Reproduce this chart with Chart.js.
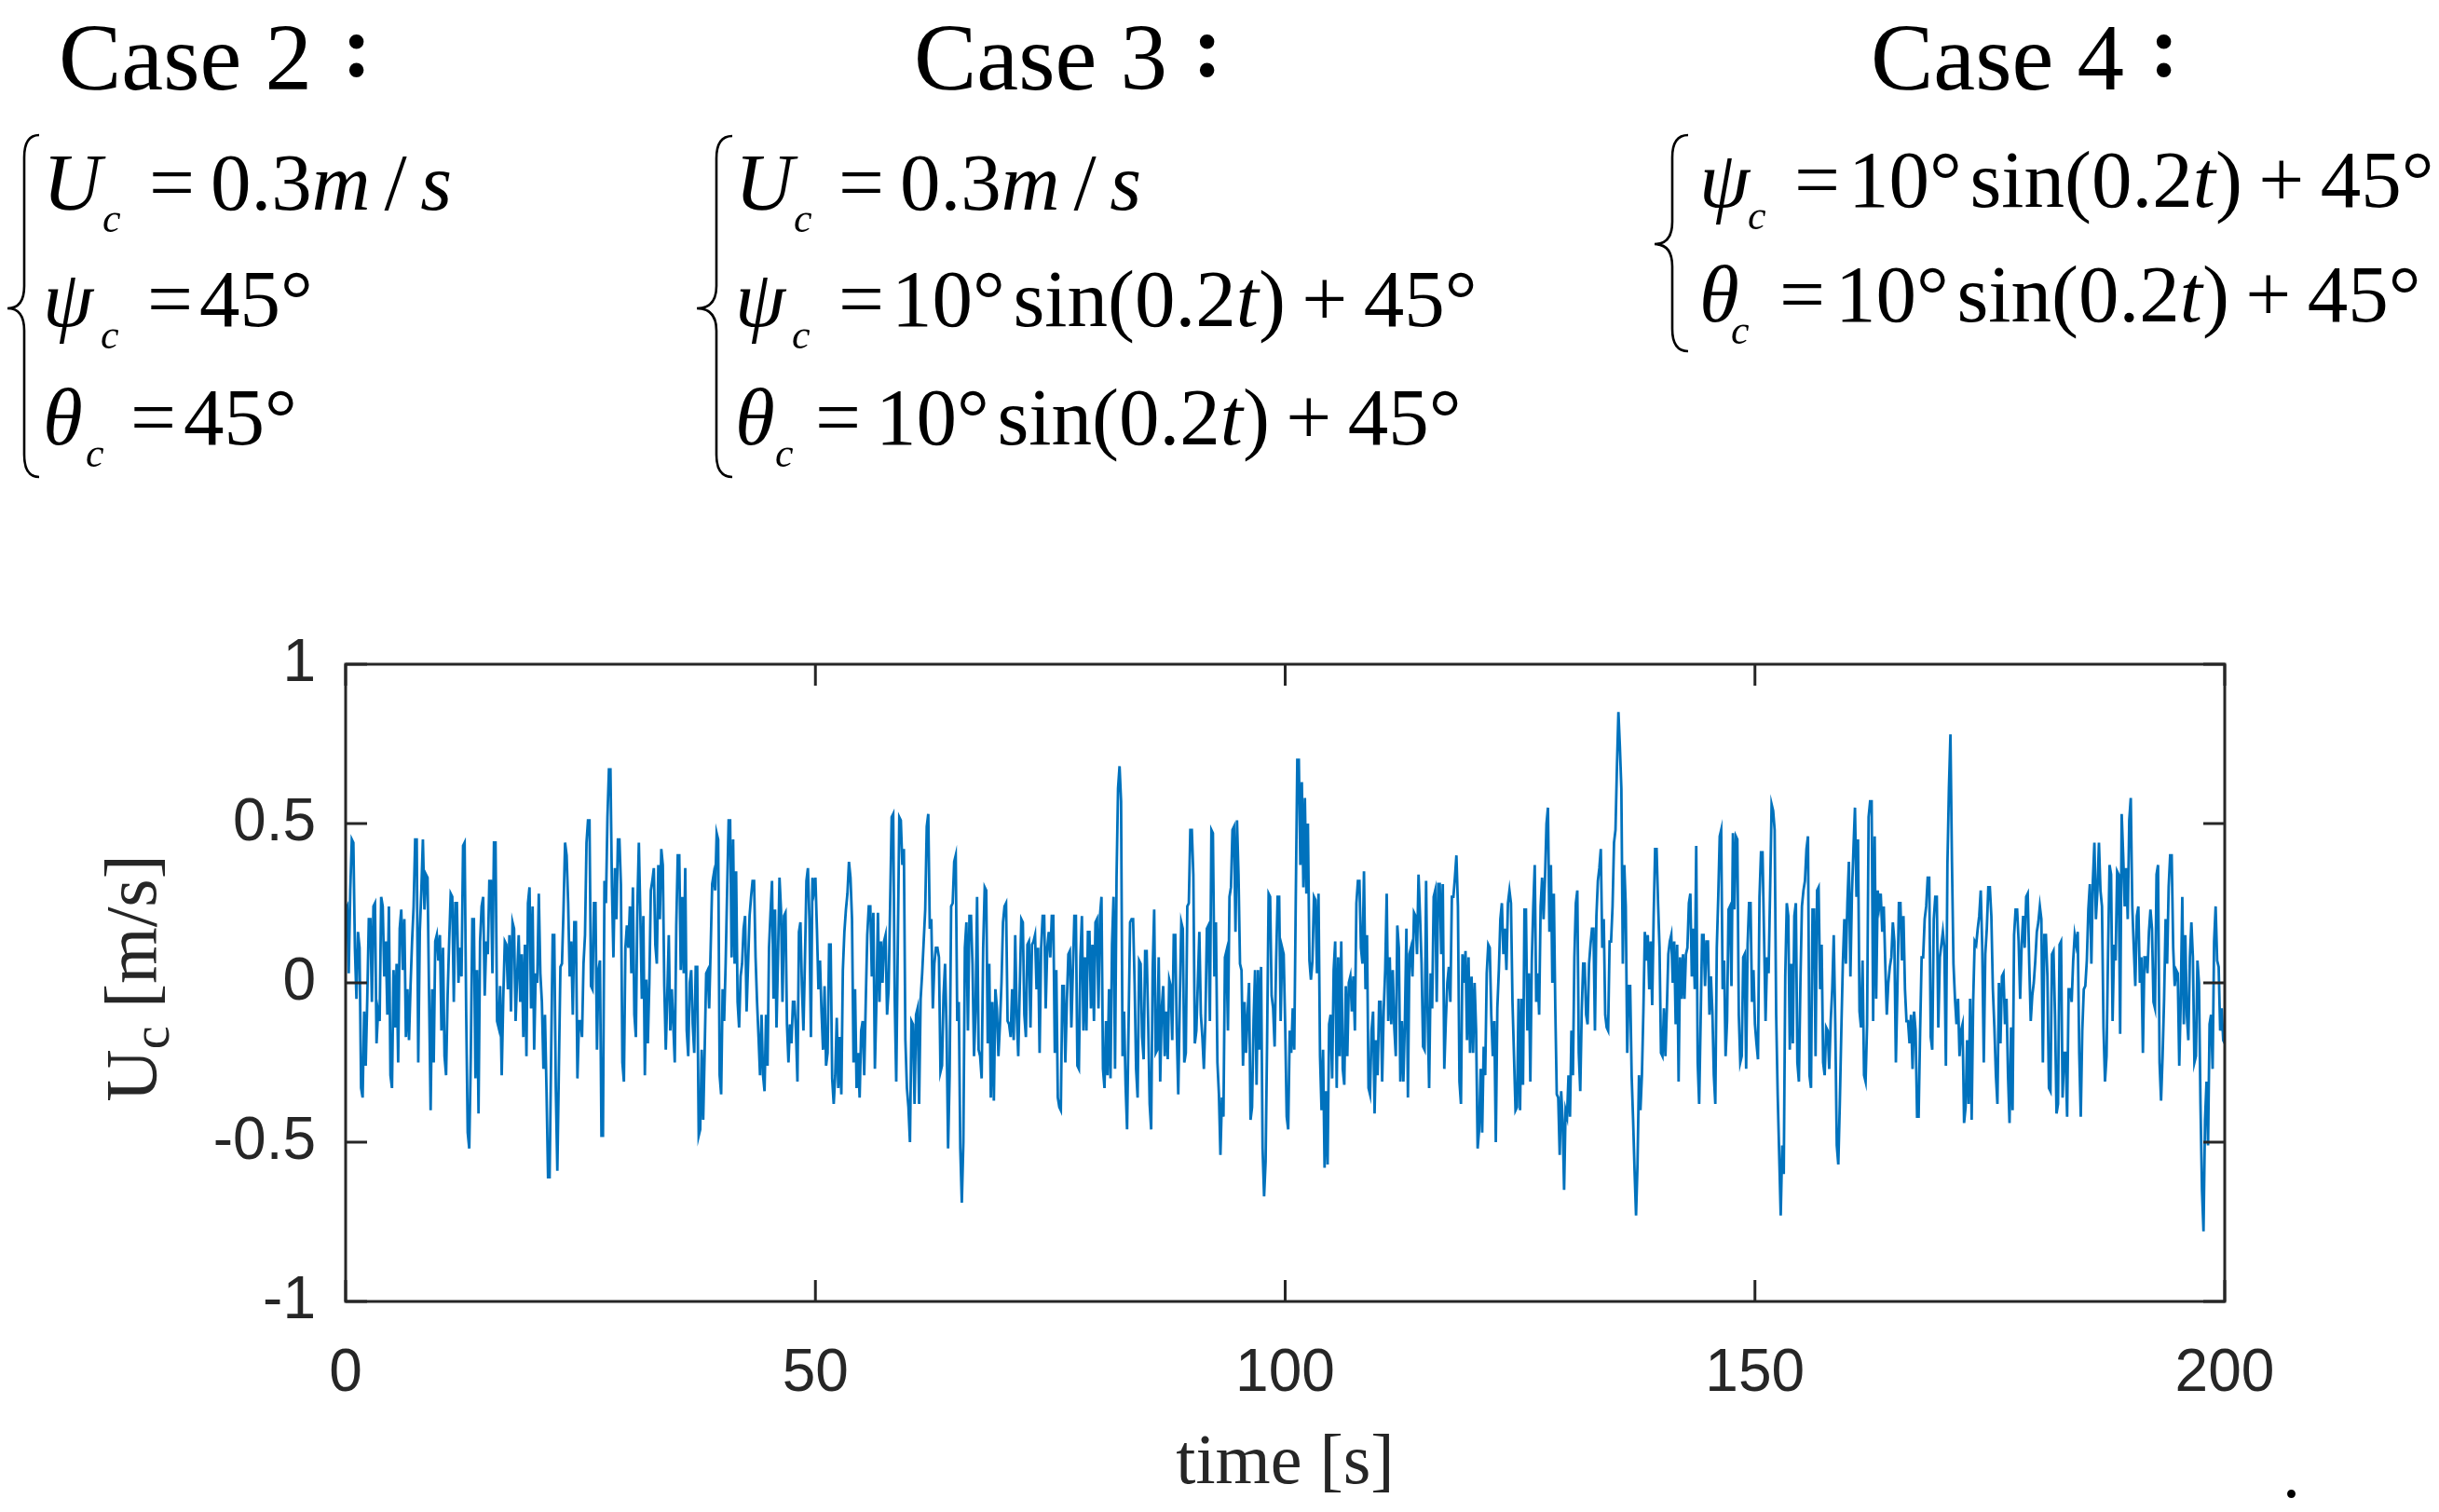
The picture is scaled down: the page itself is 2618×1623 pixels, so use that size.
<!DOCTYPE html>
<html>
<head>
<meta charset="utf-8">
<script src="https://cdn.jsdelivr.net/npm/chart.js@4.4.0/dist/chart.umd.min.js"></script>
<style>
  html, body { margin: 0; padding: 0; background: #fff; }
  #wrap { position: relative; width: 2618px; height: 1623px; overflow: hidden; background: #fff; }
  #chart { position: absolute; left: 0; top: 0; }
  #braces { position: absolute; left: 0; top: 0; }
  .t { position: absolute; line-height: 0; white-space: nowrap; color: #000;
       font-family: "Liberation Serif", "Times New Roman", serif; }
  .t i { font-style: italic; }
  .g { margin: 0 0.2em; }
  .sl { margin: 0 0.17em; }
</style>
</head>
<body>
<div id="wrap">
  <canvas id="chart" width="2618" height="1623"></canvas>
  <svg id="braces" width="2618" height="600"></svg>
</div>
<script>
// tick values
const tickX = [0, 50, 100, 150, 200];
const tickY = [-1, -0.5, 0, 0.5, 1];

// Uc [m/s] in 25 s blocks
const seg0 = [0.23,0.24,0.03,0.29,0.45,0.44,0.11,-0.05,0.16,0.11,-0.33,-0.36,-0.09,-0.26,-0.05,0.20,0.20,-0.06,0.24,0.25,-0.19,-0.09,-0.12,0.27,0.24,0.02,0.13,-0.10,0.24,-0.29,-0.33,0.04,-0.14,0.06,-0.25,0.17,0.23,0.04,0.20,-0.17,-0.02,-0.18,-0.01,0.13,0.24,0.45,0.45,-0.25,0.16,0.29,0.45,0.23,0.34,0.33,-0.04,-0.40,-0.02,-0.25,0.13,0.15,0.07,0.15,-0.15,0.11,-0.23,-0.29,-0.04,0.13,0.28,0.27,-0.06,0.25,0.25,0.00,0.11,0.02,0.43,0.44,-0.09,-0.47,-0.52,-0.23,0.20,0.20,-0.30,0.04,-0.41,0.13,0.24,0.27,-0.04,0.13,0.09,0.32,0.32,0.03,0.44,0.44,-0.12,-0.14,-0.01,-0.29,-0.05,0.13,0.12,-0.02,0.15,-0.09,0.19,0.17,-0.12,0.02,0.15,-0.06,0.09,-0.17,0.12,-0.23,0.25,0.30,-0.08,0.24,-0.21,0.03,0.00,0.28,0.03,-0.06,-0.27,-0.10,-0.34,-0.61,-0.61,-0.22,0.15,0.15,-0.33,-0.59,-0.27,0.05,0.06,0.23,0.44,0.40,0.25,0.02,0.13,-0.10,0.19,0.19,-0.30,-0.12];
const seg1 = [-0.12,-0.17,0.06,0.15,0.44,0.51,0.51,-0.01,-0.02,0.25,0.25,-0.21,0.04,0.07,-0.48,-0.48,0.32,0.25,0.52,0.67,0.67,0.30,0.08,0.36,0.20,0.45,0.45,0.31,-0.25,-0.31,0.11,0.18,0.11,0.24,0.03,0.30,-0.10,-0.17,0.24,0.44,0.21,-0.05,0.21,-0.29,0.01,-0.19,0.00,0.29,0.32,0.36,0.12,0.06,0.37,0.20,0.42,0.37,-0.01,-0.21,-0.04,0.15,-0.15,-0.02,-0.13,-0.25,0.18,0.40,0.40,0.04,0.27,0.03,0.36,-0.15,-0.23,0.00,0.04,-0.13,-0.22,0.05,0.05,-0.48,-0.46,-0.21,-0.43,-0.21,0.03,0.04,-0.08,0.11,0.31,0.34,0.29,0.47,0.45,-0.29,-0.35,-0.02,-0.12,0.06,0.29,0.51,0.51,0.08,0.45,0.06,0.35,-0.06,-0.14,0.02,0.06,0.17,0.21,-0.09,0.06,0.21,0.27,0.32,0.32,0.08,-0.06,-0.17,-0.29,-0.10,-0.29,-0.34,-0.10,-0.26,0.11,0.22,0.32,-0.05,0.23,-0.14,0.08,0.33,0.23,-0.06,0.21,0.22,-0.13,-0.25,-0.13,-0.19,-0.06,-0.06,-0.15,-0.31,0.16,0.19,-0.01,-0.15,0.07,0.32,0.36,0.20,-0.17,0.33,0.29];
const seg2 = [0.33,0.17,-0.02,0.07,-0.09,-0.21,-0.01,-0.26,-0.22,0.12,0.12,-0.30,-0.38,-0.29,-0.11,-0.33,-0.17,-0.35,0.04,0.16,0.23,0.28,0.38,0.33,0.20,-0.25,-0.02,-0.33,-0.22,-0.36,-0.15,-0.12,-0.29,-0.06,0.15,0.24,0.24,0.02,0.22,-0.27,-0.06,0.22,-0.06,0.13,0.00,0.13,0.15,-0.10,-0.02,0.25,0.52,0.53,-0.05,-0.31,0.11,0.52,0.51,0.37,0.42,-0.18,-0.33,-0.39,-0.50,-0.12,-0.13,-0.38,-0.10,-0.08,-0.38,-0.05,0.03,0.13,0.23,0.49,0.53,0.17,0.20,-0.08,0.06,0.11,0.11,0.08,-0.28,-0.26,-0.04,0.06,-0.15,-0.52,-0.29,0.24,0.25,0.38,0.40,-0.12,-0.06,-0.52,-0.69,-0.50,0.11,0.19,-0.15,0.21,0.21,0.06,-0.23,-0.09,0.27,-0.21,-0.23,-0.30,0.11,0.30,0.29,-0.19,0.06,-0.36,-0.06,-0.37,-0.02,-0.08,-0.23,-0.13,0.00,0.19,0.24,0.25,-0.12,-0.13,-0.17,-0.02,-0.18,0.15,-0.10,-0.23,-0.01,0.20,0.19,-0.10,-0.17,0.12,0.13,-0.14,0.12,0.13,0.15,-0.02,0.11,-0.22,0.11,0.21,0.21,-0.08,0.11,0.16];
const seg3 = [0.08,0.21,0.21,-0.22,0.04,-0.36,-0.39,-0.40,-0.01,-0.01,-0.25,-0.06,0.09,0.10,-0.14,0.04,0.21,0.21,-0.26,-0.27,0.08,0.21,-0.15,0.08,-0.15,0.16,0.16,-0.08,0.12,-0.12,0.19,0.20,-0.08,0.21,0.27,-0.27,-0.33,-0.12,-0.29,-0.02,-0.30,0.12,0.27,-0.27,0.33,0.61,0.68,0.57,-0.23,-0.09,-0.32,-0.46,-0.13,0.19,0.20,0.20,0.00,-0.27,-0.36,0.07,0.06,-0.17,-0.24,0.10,0.10,-0.12,-0.38,-0.46,0.04,0.23,-0.22,-0.21,0.08,-0.31,-0.08,-0.01,-0.23,-0.09,-0.24,0.01,-0.01,-0.18,0.15,0.15,-0.15,-0.35,-0.06,0.19,0.17,-0.25,-0.22,0.24,0.25,0.48,0.48,0.34,-0.19,-0.15,0.00,0.16,-0.10,-0.17,-0.27,-0.12,0.17,0.18,-0.12,0.48,0.47,0.02,0.19,-0.25,-0.35,-0.54,-0.36,-0.42,0.08,0.10,-0.15,0.27,0.30,0.48,0.49,0.16,0.51,0.34,0.06,0.04,-0.26,-0.06,-0.22,-0.10,0.00,-0.43,-0.39,-0.12,0.04,-0.32,0.04,-0.21,0.05,-0.52,-0.67,-0.56,-0.18,0.28,0.27,-0.04,-0.08,-0.20,0.07,0.27,0.27,-0.12,0.11,0.09];
const seg4 = [-0.13,-0.42,-0.46,-0.15,-0.22,-0.08,-0.21,0.27,0.70,0.70,0.37,0.63,0.30,0.58,0.28,0.50,0.07,0.01,0.07,0.27,0.26,0.03,0.28,-0.23,-0.40,-0.21,-0.58,-0.34,-0.57,-0.13,-0.10,-0.30,0.04,0.13,-0.33,0.08,-0.23,0.13,-0.27,-0.32,-0.01,-0.23,0.00,0.02,-0.09,0.02,-0.15,0.25,0.32,0.32,0.11,0.06,0.35,-0.02,0.15,-0.33,-0.35,-0.15,-0.09,-0.41,-0.18,-0.29,-0.06,-0.06,-0.31,-0.09,0.04,0.28,-0.12,0.08,-0.13,0.04,-0.14,-0.23,0.18,0.11,-0.31,-0.12,-0.31,-0.12,0.17,-0.36,0.09,0.11,0.02,0.22,0.21,0.09,0.34,0.21,0.06,-0.20,-0.21,0.32,-0.09,-0.33,0.03,-0.08,0.27,0.29,-0.06,0.31,0.31,0.09,0.31,-0.27,-0.12,0.00,0.05,-0.06,0.27,0.27,0.33,0.40,0.24,-0.31,-0.38,0.09,0.00,0.10,-0.18,0.08,-0.22,0.02,-0.22,0.00,-0.15,-0.52,-0.46,-0.27,-0.47,-0.20,-0.29,0.03,0.12,0.11,-0.10,-0.23,-0.12,-0.50,-0.08,0.04,0.20,0.25,0.09,0.17,0.04,0.25,0.29,0.25,-0.06,-0.23,-0.40,-0.39,-0.05];
const seg5 = [-0.40,-0.05,-0.32,0.23,0.23,-0.15,0.03,-0.31,0.07,0.24,0.37,-0.06,0.03,-0.10,0.24,0.33,0.20,0.33,0.50,0.55,0.16,0.37,0.00,0.28,-0.08,-0.35,-0.36,-0.54,-0.34,-0.43,-0.65,-0.40,-0.42,-0.29,-0.42,-0.15,-0.29,0.08,0.25,0.29,-0.22,-0.34,-0.09,0.06,0.06,-0.10,-0.13,0.06,0.12,0.17,0.17,-0.15,0.21,0.32,0.36,0.42,0.11,0.20,-0.10,-0.14,-0.15,0.13,0.13,0.24,0.44,0.48,0.68,0.85,0.74,0.61,0.06,0.37,0.24,-0.22,-0.01,-0.01,-0.29,-0.43,-0.59,-0.73,-0.57,-0.29,-0.40,-0.29,-0.09,0.16,0.07,0.15,-0.02,0.13,-0.07,0.21,0.42,0.42,0.25,0.11,-0.22,-0.23,-0.08,-0.23,-0.08,0.09,0.13,0.15,0.00,0.13,-0.13,0.12,-0.31,0.08,-0.05,0.09,-0.05,0.09,0.11,0.25,0.28,0.02,0.17,-0.02,0.43,-0.25,-0.38,-0.12,0.15,0.15,-0.01,0.13,0.13,-0.10,0.02,-0.09,-0.29,-0.38,0.11,0.27,0.46,0.48,-0.02,0.07,-0.23,-0.12,0.23,0.24,-0.01,0.47,0.23,0.46,0.45,-0.10,-0.25,-0.23,0.08,0.09,-0.27,0.12,0.25,0.25,-0.06,0.04];
const seg6 = [-0.13,-0.19,-0.24,0.27,0.41,0.41,0.15,-0.12,0.08,0.03,0.29,0.56,0.54,0.48,-0.10,-0.35,-0.54,-0.73,-0.51,-0.60,0.02,0.25,0.21,-0.21,0.06,-0.19,0.21,0.25,-0.25,-0.31,0.00,0.24,0.29,0.32,0.42,0.46,-0.29,-0.33,0.23,0.23,-0.23,0.29,0.30,-0.02,0.12,-0.25,-0.29,-0.14,-0.15,-0.27,-0.12,-0.02,0.15,-0.13,-0.51,-0.57,-0.38,-0.15,0.06,0.20,0.06,0.25,0.38,0.02,0.28,0.42,0.55,0.27,0.45,-0.09,-0.14,0.07,-0.29,-0.31,-0.13,0.52,0.57,0.57,-0.12,0.46,-0.05,0.29,0.24,0.28,0.16,0.24,0.06,-0.10,0.00,0.05,0.08,0.19,0.13,-0.25,-0.02,0.25,0.25,0.07,0.21,-0.02,-0.12,-0.12,-0.19,-0.10,-0.27,-0.09,-0.15,-0.42,-0.42,-0.15,0.08,0.08,0.20,0.24,0.33,0.33,-0.17,-0.21,0.20,0.27,0.27,-0.14,0.08,0.12,0.16,0.11,-0.26,0.37,0.61,0.78,0.38,0.06,-0.05,-0.13,-0.05,-0.23,-0.15,-0.13,-0.44,-0.39,-0.18,-0.38,-0.05,-0.43,-0.06,0.13,0.12,0.17,0.21,0.29,0.11,-0.25,0.09,0.17,0.30];
const seg7 = [0.30,0.21,-0.02,-0.14,-0.29,-0.38,0.00,-0.19,0.02,0.03,-0.13,-0.05,-0.29,-0.44,-0.14,-0.40,0.15,0.23,0.23,0.13,-0.05,0.12,0.21,0.11,0.27,0.28,0.06,-0.12,-0.04,0.00,0.07,0.16,0.19,0.24,0.20,-0.25,0.15,0.15,0.02,-0.33,-0.34,0.09,0.10,-0.10,-0.41,-0.38,0.12,0.13,-0.36,-0.22,-0.22,-0.42,-0.02,-0.02,-0.06,0.07,0.15,0.12,0.16,-0.22,-0.42,-0.15,-0.02,-0.01,0.07,0.23,0.31,0.06,0.32,0.44,0.20,0.29,0.44,0.29,0.24,-0.14,-0.31,-0.23,0.09,0.37,0.34,-0.12,0.12,0.07,0.35,0.34,-0.16,0.53,0.40,0.24,0.36,0.20,0.51,0.58,0.24,0.11,-0.01,0.21,0.24,0.00,0.08,-0.22,0.08,0.08,0.03,0.16,0.23,0.17,-0.06,-0.08,0.34,0.37,-0.25,-0.37,-0.23,-0.05,0.20,0.06,0.30,0.40,0.40,0.11,-0.01,0.04,0.03,-0.26,-0.05,0.27,-0.13,0.15,-0.10,-0.18,0.08,0.19,0.08,-0.25,-0.23,0.07,0.00,-0.38,-0.65,-0.78,-0.43,-0.31,-0.51,-0.13,-0.10,-0.27,0.13,0.24,0.07,0.05,-0.15,-0.08,-0.18,-0.19];

const segments = [seg0, seg1, seg2, seg3, seg4, seg5, seg6, seg7];
const SEG_LEN = 25; // seconds per block

const points = [];
segments.forEach((seg, k) => {
  const n = seg.length;
  const last = k === segments.length - 1;
  seg.forEach((v, i) => {
    points.push({ x: SEG_LEN * k + SEG_LEN * i / (last ? n - 1 : n), y: v });
  });
});

const AXIS_COLOR = '#262626';
const TICK_LEN = 23;

// box, inward ticks on all four sides and the axis titles
const framePlugin = {
  id: 'frame',
  afterDraw(chart) {
    const { ctx, chartArea: a, scales: { x, y } } = chart;
    ctx.save();
    ctx.strokeStyle = AXIS_COLOR;
    ctx.lineWidth = 3;
    ctx.strokeRect(a.left, a.top, a.right - a.left, a.bottom - a.top);
    ctx.beginPath();
    tickX.forEach(v => {
      const px = x.getPixelForValue(v);
      ctx.moveTo(px, a.bottom); ctx.lineTo(px, a.bottom - TICK_LEN);
      ctx.moveTo(px, a.top); ctx.lineTo(px, a.top + TICK_LEN);
    });
    tickY.forEach(v => {
      const py = y.getPixelForValue(v);
      ctx.moveTo(a.left, py); ctx.lineTo(a.left + TICK_LEN, py);
      ctx.moveTo(a.right, py); ctx.lineTo(a.right - TICK_LEN, py);
    });
    ctx.stroke();

    ctx.fillStyle = AXIS_COLOR;
    ctx.textBaseline = 'alphabetic';
    ctx.font = '76px "Liberation Serif"';
    ctx.textAlign = 'center';
    ctx.fillText('time [s]', (a.left + a.right) / 2, 1592);

    // y title: U with subscript c, rotated
    const mainFont = '78px "Liberation Serif"';
    const subFont = '56px "Liberation Serif"';
    ctx.font = mainFont;
    const wU = ctx.measureText('U').width;
    const wRest = ctx.measureText(' [m/s]').width;
    ctx.font = subFont;
    const wC = ctx.measureText('c').width;
    const total = wU + wC + wRest;
    ctx.translate(167, 1050);
    ctx.rotate(-Math.PI / 2);
    ctx.textAlign = 'left';
    let cx = -total / 2;
    ctx.font = mainFont;
    ctx.fillText('U', cx, 0);
    cx += wU;
    ctx.font = subFont;
    ctx.fillText('c', cx, 14);
    cx += wC;
    ctx.font = mainFont;
    ctx.fillText(' [m/s]', cx, 0);
    ctx.restore();
  }
};

const tickFont = { family: '"Liberation Sans", Arial, sans-serif', size: 64 };

new Chart(document.getElementById('chart'), {
  type: 'line',
  data: {
    datasets: [{
      data: points,
      borderColor: '#0072BD',
      borderWidth: 2.8,
      pointRadius: 0,
      tension: 0,
      fill: false
    }]
  },
  options: {
    responsive: false,
    animation: false,
    devicePixelRatio: 1,
    layout: { padding: { left: 0, right: 230, top: 713, bottom: 0 } },
    plugins: {
      legend: { display: false },
      tooltip: { enabled: false }
    },
    scales: {
      x: {
        type: 'linear',
        min: 0,
        max: 200,
        afterFit: s => { s.height = 226; },
        afterBuildTicks: s => { s.ticks = tickX.map(v => ({ value: v })); },
        grid: { display: false, drawTicks: false },
        border: { display: false },
        ticks: { font: tickFont, color: AXIS_COLOR, padding: 40, maxRotation: 0, autoSkip: false,
                 callback: v => String(v) }
      },
      y: {
        type: 'linear',
        min: -1,
        max: 1,
        afterFit: s => { s.width = 371; },
        afterBuildTicks: s => { s.ticks = tickY.map(v => ({ value: v })); },
        grid: { display: false, drawTicks: false },
        border: { display: false },
        ticks: { font: tickFont, color: AXIS_COLOR, padding: 32, autoSkip: false,
                 callback: v => String(v) }
      }
    }
  },
  plugins: [framePlugin]
});

// ---- equations above the plot ----
const wrap = document.getElementById('wrap');
const EQ = 87;   // equation font size
const SUB = 44;  // subscript size

function put(html, left, base, size, extra) {
  const d = document.createElement('div');
  d.className = 't';
  d.style.left = left + 'px';
  d.style.top = (base - 0.3375 * size) + 'px';
  d.style.fontSize = size + 'px';
  if (extra) Object.assign(d.style, extra);
  d.innerHTML = html;
  wrap.appendChild(d);
}

const rhsU = '0.3<i>m</i><span class="sl">/</span><i>s</i>';
const rhsSin = '10°<span style="margin-left:0.1em"></span>sin(0.2<i>t</i>)<span class="g">+</span>45°';

// titles
put('Case 2', 63, 96, 101);
put('Case 3', 981, 96, 101);
put('Case 4', 2008, 96, 101);
put(':', 367, 82, 96, { fontWeight: 'bold' });
put(':', 1280, 82, 96, { fontWeight: 'bold' });
put(':', 2307, 82, 96, { fontWeight: 'bold' });

// Case 2
put('<i>U</i>', 46, 225, EQ);  put('<i>c</i>', 110, 250, SUB);
put('=', 160, 225, EQ);        put(rhsU, 226, 225, EQ);
put('<i>ψ</i>', 46, 350, EQ);  put('<i>c</i>', 108, 375, SUB);
put('=', 158, 350, EQ);        put('45°', 214, 350, EQ);
put('<i>θ</i>', 46, 477, EQ);  put('<i>c</i>', 92, 502, SUB);
put('=', 140, 477, EQ);        put('45°', 197, 477, EQ);

// Case 3
put('<i>U</i>', 789, 225, EQ);  put('<i>c</i>', 852, 250, SUB);
put('=', 900, 225, EQ);         put(rhsU, 966, 225, EQ);
put('<i>ψ</i>', 789, 350, EQ);  put('<i>c</i>', 850, 375, SUB);
put('=', 900, 350, EQ);         put(rhsSin, 957, 350, EQ);
put('<i>θ</i>', 789, 477, EQ);  put('<i>c</i>', 832, 502, SUB);
put('=', 875, 477, EQ);         put(rhsSin, 940, 477, EQ);

// Case 4
put('<i>ψ</i>', 1824, 222, EQ); put('<i>c</i>', 1876, 247, SUB);
put('=', 1926, 222, EQ);        put(rhsSin, 1984, 222, EQ);
put('<i>θ</i>', 1824, 345, EQ); put('<i>c</i>', 1858, 370, SUB);
put('=', 1910, 345, EQ);        put(rhsSin, 1970, 345, EQ);

// trailing full stop at lower right
put('.', 2450, 1607, 76);

// curly braces
function bracePath(R, S, C, top, mid, bot) {
  const r = 24;
  return `M${R},${top} Q${S},${top} ${S},${top + r} L${S},${mid - r} Q${S},${mid} ${C},${mid} ` +
         `Q${S},${mid} ${S},${mid + r} L${S},${bot - r} Q${S},${bot} ${R},${bot}`;
}
const svg = document.getElementById('braces');
[
  [42, 26, 8, 145, 331, 512],
  [786, 769, 748, 146, 331, 512],
  [1812, 1795, 1776, 145, 262, 377]
].forEach(b => {
  const p = document.createElementNS('http://www.w3.org/2000/svg', 'path');
  p.setAttribute('d', bracePath(...b));
  p.setAttribute('fill', 'none');
  p.setAttribute('stroke', '#000');
  p.setAttribute('stroke-width', '2.6');
  svg.appendChild(p);
});
</script>
</body>
</html>
